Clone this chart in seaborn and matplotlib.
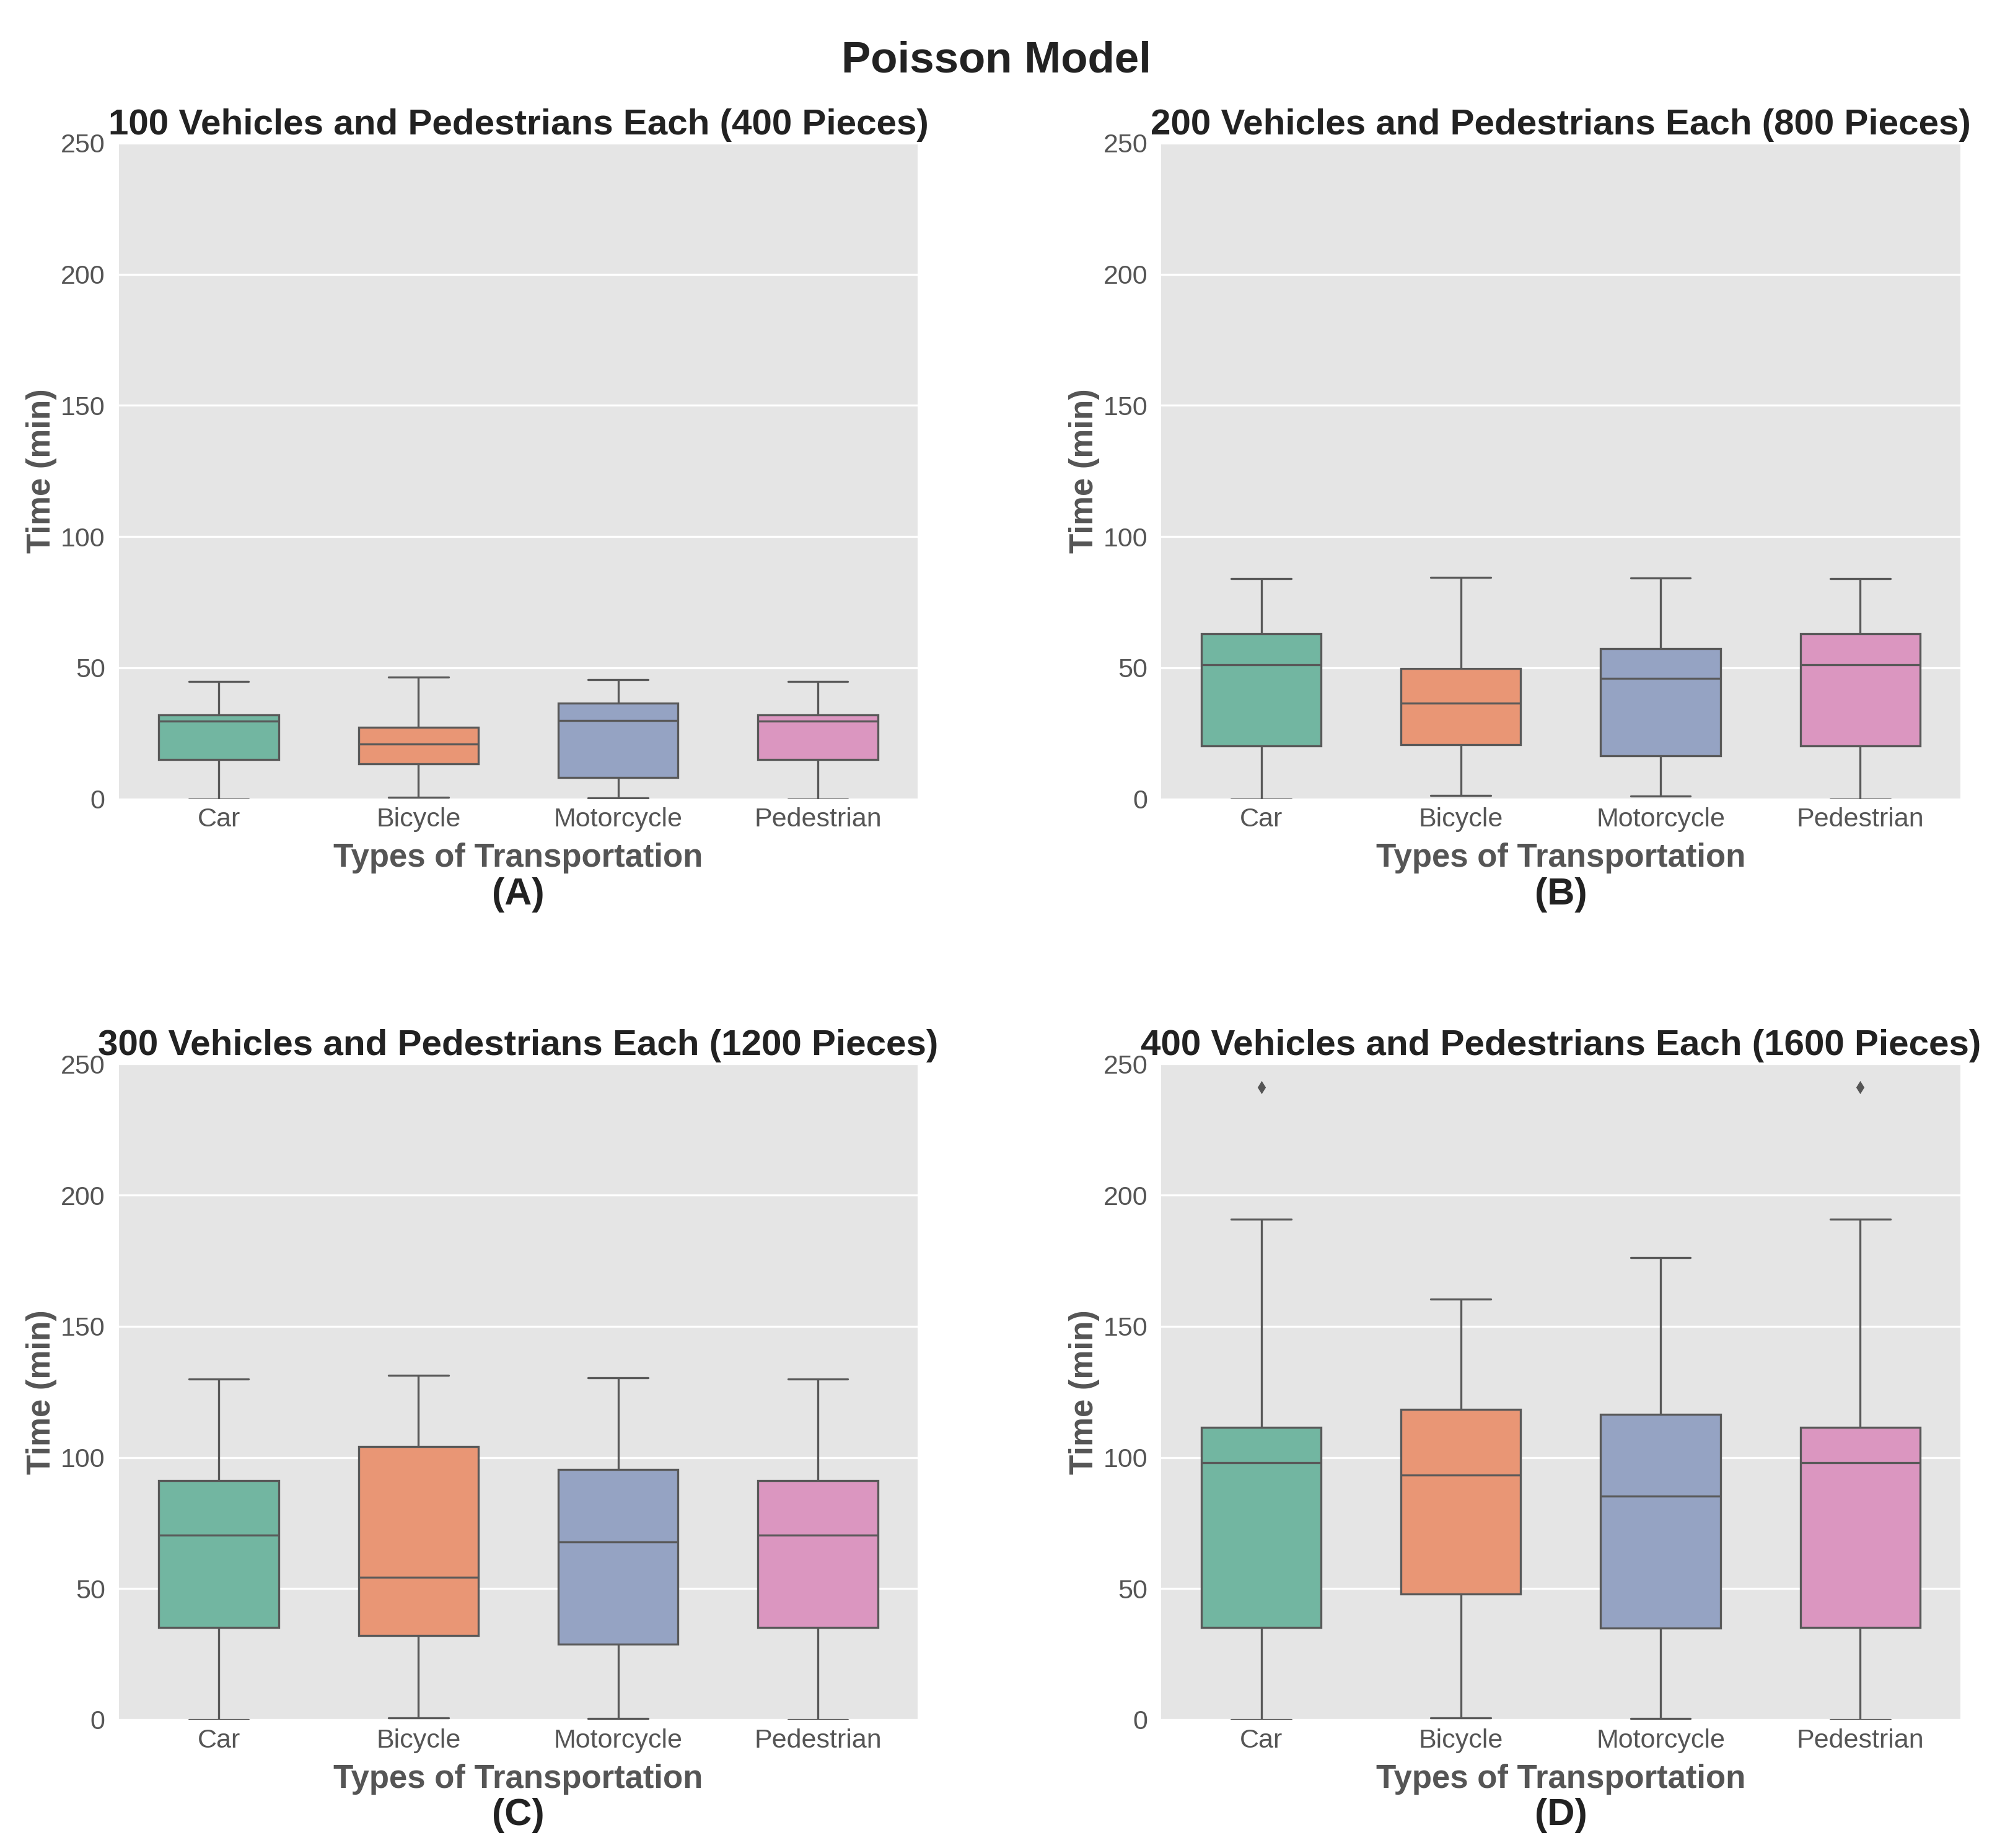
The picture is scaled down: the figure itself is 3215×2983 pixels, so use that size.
import numpy as np
import pandas as pd
import matplotlib
matplotlib.use("Agg")
import matplotlib.pyplot as plt
import seaborn as sns

# ----------- Data (minutes) ---------------------------------

modes = ["Car", "Bicycle", "Motorcycle", "Pedestrian"]

# 100 vehicles and pedestrians each
times_a = {
    "Car": [0.0, 14.9, 29.7, 32.0, 44.8],
    "Bicycle": [0.6, 13.4, 20.8, 27.3, 46.4],
    "Motorcycle": [0.4, 8.1, 29.9, 36.5, 45.4],
    "Pedestrian": [0.0, 14.9, 29.7, 32.0, 44.8],
}

# 200 vehicles and pedestrians each
times_b = {
    "Car": [0.0, 20.2, 51.1, 62.9, 83.9],
    "Bicycle": [1.2, 20.6, 36.4, 49.7, 84.5],
    "Motorcycle": [1.0, 16.5, 46.0, 57.2, 84.1],
    "Pedestrian": [0.0, 20.2, 51.1, 62.9, 83.9],
}

# 300 vehicles and pedestrians each
times_c = {
    "Car": [0.0, 35.1, 70.4, 91.1, 129.8],
    "Bicycle": [0.8, 32.1, 54.2, 104.1, 131.4],
    "Motorcycle": [0.4, 28.7, 67.8, 95.5, 130.4],
    "Pedestrian": [0.0, 35.1, 70.4, 91.1, 129.8],
}

# 400 vehicles and pedestrians each
times_d = {
    "Car": [0.0, 20.0, 35.1, 70.0, 97.9, 105.0, 111.4, 190.8, 241.0],
    "Bicycle": [0.8, 48.0, 93.3, 118.2, 160.3],
    "Motorcycle": [0.4, 34.9, 85.3, 116.4, 176.2],
    "Pedestrian": [0.0, 20.0, 35.1, 70.0, 97.9, 105.0, 111.4, 190.8, 241.0],
}

titles = [
    "100 Vehicles and Pedestrians Each (400 Pieces)",
    "200 Vehicles and Pedestrians Each (800 Pieces)",
    "300 Vehicles and Pedestrians Each (1200 Pieces)",
    "400 Vehicles and Pedestrians Each (1600 Pieces)",
]
letters = ["(A)", "(B)", "(C)", "(D)"]
y_ticks = [0, 50, 100, 150, 200, 250]


def to_frame(times):
    rows = []
    for mode in modes:
        for v in times[mode]:
            rows.append({"Transportation": mode, "Time": v})
    return pd.DataFrame(rows)


# ----------- Style --------------

sns.set_style("darkgrid", {
    "axes.facecolor": "#E5E5E5",
    "grid.color": "white",
})
plt.rcParams["font.family"] = ["Liberation Sans", "DejaVu Sans"]

fig, axes = plt.subplots(2, 2, figsize=(16.075, 14.915), dpi=200)
fig.subplots_adjust(left=0.0597, right=0.984, top=0.9226, bottom=0.0694,
                    wspace=0.305, hspace=0.404)

for ax, times, title, letter in zip(axes.flat, [times_a, times_b, times_c, times_d],
                                    titles, letters):
    df = to_frame(times)
    sns.boxplot(data=df, x="Transportation", y="Time", hue="Transportation",
                order=modes, hue_order=modes, palette="Set2", legend=False,
                width=0.6, linewidth=1.2, fliersize=4,
                flierprops={"marker": "d", "markerfacecolor": "#555555",
                            "markeredgecolor": "#555555"},
                ax=ax)
    ax.set_ylim(0, 250)
    ax.set_yticks(y_ticks)
    ax.grid(axis="x", visible=False)
    ax.grid(axis="y", color="white", linewidth=1.2)
    for s in ax.spines.values():
        s.set_visible(False)
    ax.tick_params(axis="y", length=0, labelsize=15.5, colors="#555555", pad=8)
    ax.tick_params(axis="x", length=0, labelsize=15.5, colors="#555555", pad=5)
    ax.set_title(title, fontsize=21, fontweight="bold", color="#222222", pad=5)
    ax.set_xlabel("Types of Transportation", fontsize=19, fontweight="bold",
                  color="#555555", labelpad=6)
    ax.set_ylabel("Time (min)", fontsize=19, fontweight="bold", color="#555555",
                  labelpad=2)
    ax.text(0.5, -0.146, letter, transform=ax.transAxes, ha="center", va="center",
            fontsize=22, fontweight="bold", color="#222222")

fig.suptitle("Poisson Model", fontsize=25.5, fontweight="bold", color="#222222",
             y=0.978)

plt.savefig("out.png", dpi=200)
